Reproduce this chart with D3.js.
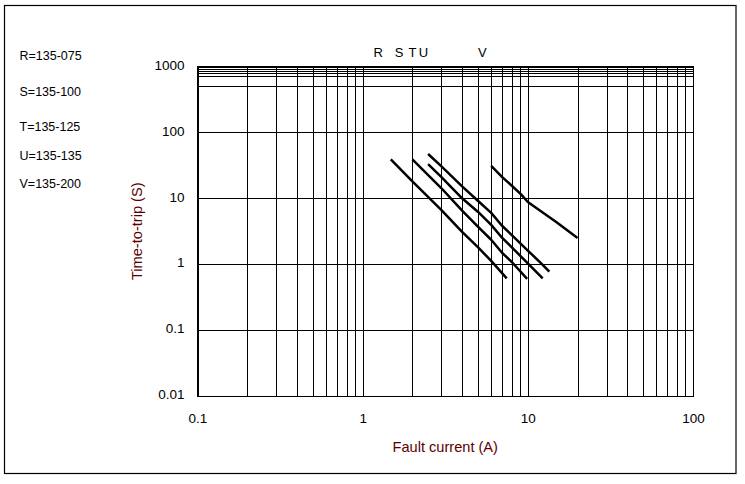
<!DOCTYPE html>
<html><head><meta charset="utf-8">
<script src="https://cdn.jsdelivr.net/npm/d3@7"></script>
<style>html,body{margin:0;padding:0;background:#fff;} svg{display:block;font-family:"Liberation Sans",Arial,sans-serif;}</style>
</head><body>
<svg id="chart" width="745" height="484"></svg>
<script>
// ---- data ----
const seriesNames = ["R", "S", "T", "U", "V"];
const legendLabels = ["R=135-075", "S=135-100", "T=135-125", "U=135-135", "V=135-200"];
const currentR = [1.48, 2, 3, 4, 5, 6, 7.45];
const timeR    = [39, 18, 6.6, 3.1, 1.8, 1.12, 0.61];
const currentS = [2, 3, 4, 5, 6, 7, 8, 9.9];
const timeS    = [39, 14.2, 6.5, 3.7, 2.35, 1.48, 1.08, 0.6];
const currentT = [2.49, 3, 4, 5, 6, 7, 8, 10, 12.3];
const timeT    = [33, 21, 10, 6.2, 3.95, 2.5, 1.8, 1.03, 0.61];
const currentU = [2.49, 3, 4, 5, 6, 7, 8, 10, 12, 13.5];
const timeU    = [47, 30.5, 15.2, 9.1, 6.0, 3.8, 2.77, 1.61, 1.04, 0.77];
const currentV = [6, 7, 8, 9.1, 10, 15, 20];
const timeV    = [31, 21, 15.5, 11.5, 8.8, 4.3, 2.5];
const topLabelAt = [1.24, 1.66, 2.0, 2.33, 5.3];   // current where each letter sits above the plot
const xTickValues = [0.1, 1, 10, 100];
const xTickLabels = ["0.1", "1", "10", "100"];
const yTickValues = [0.01, 0.1, 1, 10, 100, 1000];
const yTickLabels = ["0.01", "0.1", "1", "10", "100", "1000"];
const yExtraGrid = [500, 725, 800, 860, 925];
const xTitle = "Fault current (A)";
const yTitle = "Time-to-trip (S)";

// ---- layout ----
const W = 745, H = 484;
const plot = {left: 197.5, right: 693, top: 66.5, bottom: 396};
const legendY = [55, 91.5, 126.5, 155.5, 183];

const svg = d3.select("#chart");
svg.append("rect").attr("width", W).attr("height", H).attr("fill", "#fff");
svg.append("rect").attr("x", 4.5).attr("y", 5.5).attr("width", 731.5).attr("height", 468)
  .attr("fill", "none").attr("stroke", "#000").attr("stroke-width", 1.2);

const x = d3.scaleLog().domain([0.1, 100]).range([plot.left, plot.right]);
const y = d3.scaleLog().domain([0.01, 1000]).range([plot.bottom, plot.top]);
const pw = plot.right - plot.left, ph = plot.bottom - plot.top;

// grid
const xMinor = [];
[0.1, 1, 10].forEach(d => { for (let k = 1; k <= 9; k++) xMinor.push(+(d * k).toPrecision(3)); });
xMinor.push(100);
const gx = svg.append("g").attr("transform", `translate(0,${plot.bottom})`)
  .call(d3.axisBottom(x).tickValues(xMinor).tickFormat("").tickSize(-ph).tickSizeOuter(0));
gx.select(".domain").remove();
gx.selectAll("line").attr("stroke", "#000").attr("shape-rendering", "crispEdges");

const gy = svg.append("g").attr("transform", `translate(${plot.left},0)`)
  .call(d3.axisLeft(y).tickValues(yTickValues.concat(yExtraGrid)).tickFormat("").tickSize(-pw).tickSizeOuter(0));
gy.select(".domain").remove();
gy.selectAll("line").attr("stroke", "#000").attr("shape-rendering", "crispEdges");

svg.append("rect").attr("x", plot.left).attr("y", plot.top).attr("width", pw).attr("height", ph)
  .attr("fill", "none").attr("stroke", "#000").attr("shape-rendering", "crispEdges");

// curves
const curves = [
  d3.zip(currentR, timeR), d3.zip(currentS, timeS), d3.zip(currentT, timeT),
  d3.zip(currentU, timeU), d3.zip(currentV, timeV)
];
const line = d3.line().x(d => x(d[0])).y(d => y(d[1]));
svg.append("g").selectAll("path").data(curves).join("path")
  .attr("d", line).attr("fill", "none").attr("stroke", "#000")
  .attr("stroke-width", 2.5).attr("stroke-linejoin", "round");

// tick labels
const xl = svg.append("g").attr("transform", `translate(0,${plot.bottom})`)
  .call(d3.axisBottom(x).tickValues(xTickValues).tickFormat((d, i) => xTickLabels[i]).tickSize(0).tickPadding(17));
xl.select(".domain").remove();
xl.selectAll("text").attr("font-size", 13.5).attr("font-family", "Liberation Sans, Arial, sans-serif").attr("fill", "#000");

const yl = svg.append("g").attr("transform", `translate(${plot.left},0)`)
  .call(d3.axisLeft(y).tickValues(yTickValues).tickFormat((d, i) => yTickLabels[i]).tickSize(0).tickPadding(13));
yl.select(".domain").remove();
yl.selectAll("text").attr("font-size", 13.5).attr("font-family", "Liberation Sans, Arial, sans-serif")
  .attr("fill", "#000").attr("dy", "0.2em");

// axis titles
svg.append("text").attr("x", (plot.left + plot.right) / 2).attr("y", 452)
  .attr("text-anchor", "middle").attr("font-size", 14.6).attr("fill", "#5a0000").text(xTitle);
svg.append("text").attr("transform", `translate(142,${(plot.top + plot.bottom) / 2}) rotate(-90)`)
  .attr("text-anchor", "middle").attr("font-size", 14.6).attr("fill", "#5a0000").text(yTitle);

// letters above the plot
svg.append("g").selectAll("text").data(seriesNames).join("text")
  .attr("x", (d, i) => x(topLabelAt[i])).attr("y", 56.5)
  .attr("text-anchor", "middle").attr("font-size", 13).attr("fill", "#000").text(d => d);

// legend text
svg.append("g").selectAll("text").data(legendLabels).join("text")
  .attr("x", 19.5).attr("y", (d, i) => legendY[i] + 4.5)
  .attr("font-size", 12.5).attr("fill", "#000").text(d => d);
</script>
</body></html>
